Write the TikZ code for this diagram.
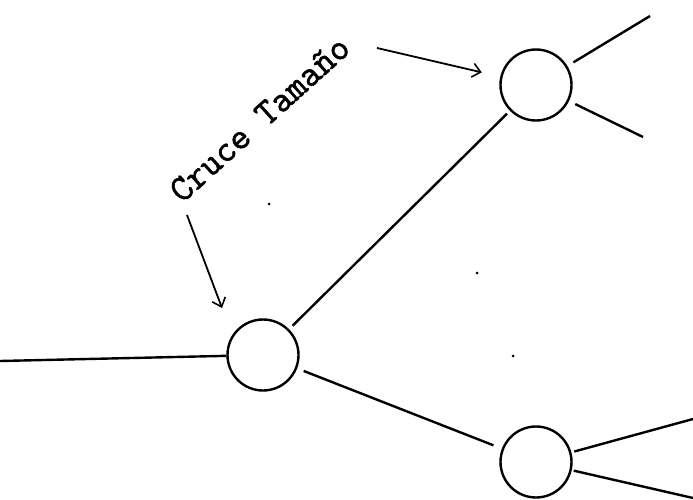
\documentclass[tikz,border=0pt]{standalone}
\usepackage{fontspec}
\newfontfamily\typewriter[FakeBold=1.6]{Latin Modern Mono}
\usetikzlibrary{arrows.meta}
\begin{document}
\begin{tikzpicture}[x=1pt,y=-1pt,
  junction/.style={draw,circle,line width=2.4pt,minimum size=71pt,inner sep=0pt},
  branch/.style={line width=2.4pt},
  pointer/.style={line width=1.8pt,-{Straight Barb[length=8pt,width=14pt,line width=1.6pt]}},
  speck/.style={fill=black,circle,inner sep=0pt,minimum size=3pt}]
\useasboundingbox (0,0) rectangle (693,500);
% junctions
\node[junction] (c1) at (263,355) {};
\node[junction] (c2) at (536,85) {};
\node[junction] (c3) at (536,462) {};
% free ends
\coordinate (L) at (0,361);
\coordinate (t1) at (650,16);
\coordinate (t2) at (643,137);
\coordinate (b1) at (693,419);
\coordinate (b2) at (693,498);
% branches
\draw[branch] (L) -- (c1);
\draw[branch,shorten <=5pt,shorten >=4pt] (c1) -- (c2);
\draw[branch,shorten <=7pt,shorten >=9pt] (c1) -- (c3);
\draw[branch,shorten <=7pt] (c2) -- (t1);
\draw[branch,shorten <=7pt] (c2) -- (t2);
\draw[branch,shorten <=3pt] (c3) -- (b1);
\draw[branch,shorten <=2pt] (c3) -- (b2);
% label
\node[anchor=base west,rotate=42,inner sep=0pt,font=\typewriter\fontsize{37}{37}\selectfont] (lab) at (182,204) {Cruce Tamaño};
\coordinate (p1) at (377,48);
\coordinate (p2) at (187,215);
\coordinate (q2) at (222,308);
\draw[pointer,shorten >=19pt] (p1) -- (c2);
\draw[pointer] (p2) -- (q2);
% specks
\node[speck] (s1) at (269,204) {};
\node[speck] (s2) at (477,273) {};
\node[speck] (s3) at (513,356) {};
\end{tikzpicture}
\end{document}
